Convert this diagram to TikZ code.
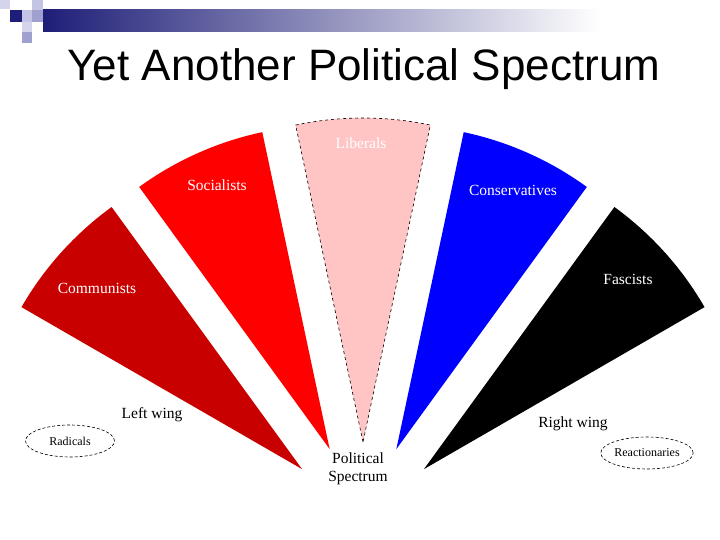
\documentclass[tikz,border=0pt]{standalone}
\usepackage{fontspec}
\setmainfont{Liberation Serif}
\newfontfamily\titlefont{Liberation Sans}
\usetikzlibrary{calc,shapes.geometric}
\definecolor{commred}{RGB}{200,0,0}
\definecolor{socred}{RGB}{255,0,0}
\definecolor{libpink}{RGB}{255,196,196}
\definecolor{consblue}{RGB}{0,0,255}
\definecolor{navy}{RGB}{30,30,120}
\definecolor{lavA}{RGB}{212,212,236}
\definecolor{lavB}{RGB}{196,196,228}
\definecolor{lavC}{RGB}{160,160,208}
\tikzset{
  inlab/.style={text=white, font=\fontsize{15.5}{17}\selectfont, inner sep=0pt},
  outlab/.style={text=black, font=\fontsize{15.5}{18}\selectfont, inner sep=0pt, align=center},
  oval/.style={ellipse, draw=black, dash pattern=on 3pt off 2pt, line width=0.6pt,
    minimum width=89pt, minimum height=32pt, inner sep=0pt, font=\fontsize{12}{13}\selectfont},
  wedgeline/.style={draw=black, dashed, line width=0.6pt}
}
\begin{document}
\begin{tikzpicture}[x=1pt,y=1pt]
\useasboundingbox (0,0) rectangle (720,540);
\fill[white] (0,0) rectangle (720,540);
% header decoration
\shade[left color=navy, right color=white] (43,530) rectangle (600,508);
\fill[lavA] (0,540) rectangle (10,531);
\fill[navy] (10,530) rectangle (22,518);
\fill[lavB] (22,530) rectangle (32,518);
\fill[lavB] (32,540) rectangle (43,530);
\fill[lavC] (32,530) rectangle (43,518);
\fill[lavA] (22,518) rectangle (32,508);
\fill[lavC] (22,508) rectangle (32,497);
% title
\node[anchor=base, inner sep=0pt] (title) at (364,459) {\titlefont\fontsize{44}{50}\selectfont Yet Another Political Spectrum};
% wedges
\coordinate (C) at (363,16);
\foreach \th/\col in {138/commred,114/socred,66/consblue,42/black} {
  \fill[\col] ($(C)+(\th:82)$) -- ++(\th+12:324) arc[start angle=\th+12, end angle=\th-12, radius=324] -- cycle;
}
\fill[libpink] ($(C)+(90:82)$) -- ++(102:324) arc[start angle=102, end angle=78, radius=324] -- cycle;
\draw[wedgeline] ($(C)+(90:82)$) -- ++(102:324) arc[start angle=102, end angle=78, radius=324] -- cycle;
% wedge labels
\node[inlab] (lib) at (361,397) {Liberals};
\node[inlab] (soc) at (217,355) {Socialists};
\node[inlab] (comm) at (97,252) {Communists};
\node[inlab] (cons) at (513,350) {Conservatives};
\node[inlab] (fasc) at (628,261) {Fascists};
% outer labels
\node[outlab] (left) at (152,125) {Left wing};
\node[outlab] (right) at (573,116) {Right wing};
\node[outlab] (ps) at (358,71) {Political\\Spectrum};
\node[oval] (rad) at (70,99) {Radicals};
\node[oval] (reac) at (647,87) {Reactionaries};
\end{tikzpicture}
\end{document}
